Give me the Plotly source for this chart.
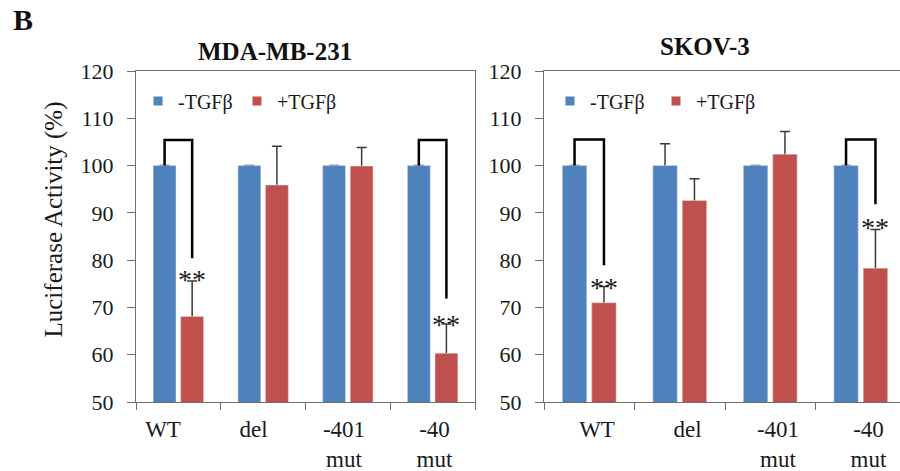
import plotly.graph_objects as go

# ---------------- data ----------------
categories = ["WT", "del", "-401<br>mut", "-40<br>mut"]
series_names = ["-TGFβ", "+TGFβ"]

mda_minus = [100, 100, 100, 100]
mda_minus_err = [0, 0, 0, 0]
mda_plus = [68.1, 95.9, 99.9, 60.3]
mda_plus_err = [7.5, 8.2, 3.9, 6.2]

skov_minus = [100, 100, 100, 100]
skov_minus_err = [0, 4.6, 0, 0]
skov_plus = [71.0, 92.6, 102.4, 78.3]
skov_plus_err = [3.4, 4.6, 4.8, 8.2]

# significance brackets (category index, bracket top, end of right leg, "**" level)
mda_sig_idx = [0, 3]
mda_sig_top = [105.4, 105.4]
mda_sig_end = [80.4, 71.9]
mda_star_y = [77.3, 67.8]

skov_sig_idx = [0, 3]
skov_sig_top = [105.5, 105.5]
skov_sig_end = [78.9, 91.8]
skov_star_y = [75.6, 88.3]

panel_titles = ["MDA-MB-231", "SKOV-3"]
y_ticks = [50, 60, 70, 80, 90, 100, 110, 120]

# ---------------- style ----------------
BLUE = "#4F81BD"
RED = "#C0504D"
FONT = "'Liberation Serif', 'Times New Roman', Times, serif"
AXIS_COLOR = "#707070"
TEXT = "#1a1a1a"
BARGAP = 0.35
BARGROUPGAP = 0.17
W, H = 900, 471

# pixel layout of the two plot areas
P1_L, P1_R = 136, 475
P2_L, P2_R = 544, 900
P_TOP, P_BOT = 71, 402
CAT_PX_2 = 90.5                      # category pitch of the (cropped) right panel
# category labels in the original sit on their own evenly spaced grid
LABEL_START_1, LABEL_START_2, LABEL_PITCH = 163, 597, 90.5

fig = go.Figure()
ncat = len(categories)
xpos = list(range(ncat))

x1_range = [-0.5, ncat - 0.5]
x2_range = [-0.5, -0.5 + (P2_R - P2_L) / CAT_PX_2]
cat_px_1 = (P1_R - P1_L) / ncat


def label_vals(start_px, left_px, cat_px):
    return [(start_px + i * LABEL_PITCH - left_px) / cat_px - 0.5 for i in range(ncat)]


panels = [
    ("x", "y", mda_minus, mda_minus_err, mda_plus, mda_plus_err,
     mda_sig_idx, mda_sig_top, mda_sig_end, mda_star_y, "legend"),
    ("x2", "y2", skov_minus, skov_minus_err, skov_plus, skov_plus_err,
     skov_sig_idx, skov_sig_top, skov_sig_end, skov_star_y, "legend2"),
]

slot = (1 - BARGAP) / 2
d = slot / 2

for (xa, ya, vm, em, vp, ep, sidx, stop, send, stary, leg) in panels:
    for k, (name, vals, errs, col) in enumerate([(series_names[0], vm, em, BLUE),
                                                 (series_names[1], vp, ep, RED)]):
        og = "g%d" % k
        # bar carrying the error bar
        fig.add_trace(go.Bar(
            x=xpos, y=vals, name=name, xaxis=xa, yaxis=ya, offsetgroup=og,
            marker=dict(color=col, line=dict(color="rgba(255,255,255,0.45)", width=1)),
            error_y=dict(type="data", array=errs, color="#3a3a3a",
                         thickness=1.5, width=5),
            showlegend=False, hoverinfo="skip",
        ))
        # same bar drawn again on top, hiding the lower half of the error bar
        fig.add_trace(go.Bar(
            x=xpos, y=vals, name=name, xaxis=xa, yaxis=ya, offsetgroup=og,
            marker=dict(color=col, line=dict(color="rgba(255,255,255,0.45)", width=1)),
            showlegend=False,
        ))
        # legend entry with a small square marker
        fig.add_trace(go.Scatter(
            x=[None], y=[None], mode="markers", name=name, xaxis=xa, yaxis=ya,
            marker=dict(symbol="square", size=9, color=col),
            legend=leg, showlegend=True,
        ))
    for i, top, end, sy in zip(sidx, stop, send, stary):
        fig.add_trace(go.Scatter(
            x=[xpos[i] - d, xpos[i] - d, xpos[i] + d, xpos[i] + d],
            y=[vm[i], top, top, end],
            mode="lines", line=dict(color="black", width=2.5),
            xaxis=xa, yaxis=ya, showlegend=False, hoverinfo="skip",
        ))
        fig.add_annotation(x=xpos[i] + d, y=sy, xref=xa, yref=ya, text="**",
                           showarrow=False, yshift=-7, yanchor="middle",
                           font=dict(family=FONT, size=28, color=TEXT))

YB, YT = 1 - P_BOT / H, 1 - P_TOP / H


def xaxis_cfg(left_px, right_px, rng, labels_at):
    return dict(
        domain=[left_px / W, right_px / W], range=rng,
        tickvals=labels_at, ticktext=categories, ticks="", showline=True,
        linecolor=AXIS_COLOR, linewidth=1, showgrid=False, zeroline=False,
        mirror=True,
        tickfont=dict(family=FONT, size=23, color=TEXT),
        minor=dict(tickvals=[v - 0.5 for v in xpos] + [xpos[-1] + 0.5],
                   ticks="outside", ticklen=7, tickcolor=AXIS_COLOR, tickwidth=1),
        ticklabelstandoff=6, fixedrange=True,
    )


common_y = dict(
    domain=[YB, YT], range=[50, 120], tickvals=y_ticks, ticks="outside", ticklen=8,
    tickcolor=AXIS_COLOR, showline=True, linecolor=AXIS_COLOR, linewidth=1,
    showgrid=False, zeroline=False, ticklabelstandoff=9,
    tickfont=dict(family=FONT, size=22, color=TEXT), fixedrange=True,
)

legend_common = dict(orientation="h", xanchor="left", yanchor="middle",
                     y=1 - 101 / H, entrywidthmode="pixels",
                     font=dict(family=FONT, size=20, color=TEXT),
                     bgcolor="rgba(0,0,0,0)", itemclick=False, itemdoubleclick=False)

fig.update_layout(
    width=W, height=H, margin=dict(l=0, r=0, t=0, b=0, autoexpand=False),
    paper_bgcolor="white", plot_bgcolor="white",
    barmode="group", bargap=BARGAP, bargroupgap=BARGROUPGAP,
    font=dict(family=FONT, color=TEXT),
    xaxis=dict(anchor="y", **xaxis_cfg(P1_L, P1_R, x1_range,
                                       label_vals(LABEL_START_1, P1_L, cat_px_1))),
    yaxis=dict(anchor="x", mirror=True, **common_y),
    xaxis2=dict(anchor="y2", **xaxis_cfg(P2_L, P2_R, x2_range,
                                         label_vals(LABEL_START_2, P2_L, CAT_PX_2))),
    yaxis2=dict(anchor="x2", mirror=False, **common_y),
    legend=dict(x=138 / W, entrywidth=54, **legend_common),
    legend2=dict(x=550 / W, entrywidth=61, **legend_common),
)

# titles and labels
fig.add_annotation(x=275 / W, y=1 - 52 / H, xref="paper", yref="paper",
                   text="<b>%s</b>" % panel_titles[0], showarrow=False,
                   xanchor="center", yanchor="middle",
                   font=dict(family=FONT, size=25, color="#111"))
fig.add_annotation(x=705 / W, y=1 - 46.5 / H, xref="paper", yref="paper",
                   text="<b>%s</b>" % panel_titles[1], showarrow=False,
                   xanchor="center", yanchor="middle",
                   font=dict(family=FONT, size=25, color="#111"))
fig.add_annotation(x=23 / W, y=1 - 20 / H, xref="paper", yref="paper", text="<b>B</b>",
                   showarrow=False, xanchor="center", yanchor="middle",
                   font=dict(family=FONT, size=30, color="#111"))
fig.add_annotation(x=53 / W, y=1 - 219.5 / H, xref="paper", yref="paper",
                   text="Luciferase Activity (%)", textangle=-90,
                   showarrow=False, xanchor="center", yanchor="middle",
                   font=dict(family=FONT, size=25, color=TEXT))

fig.write_html("out.html")
